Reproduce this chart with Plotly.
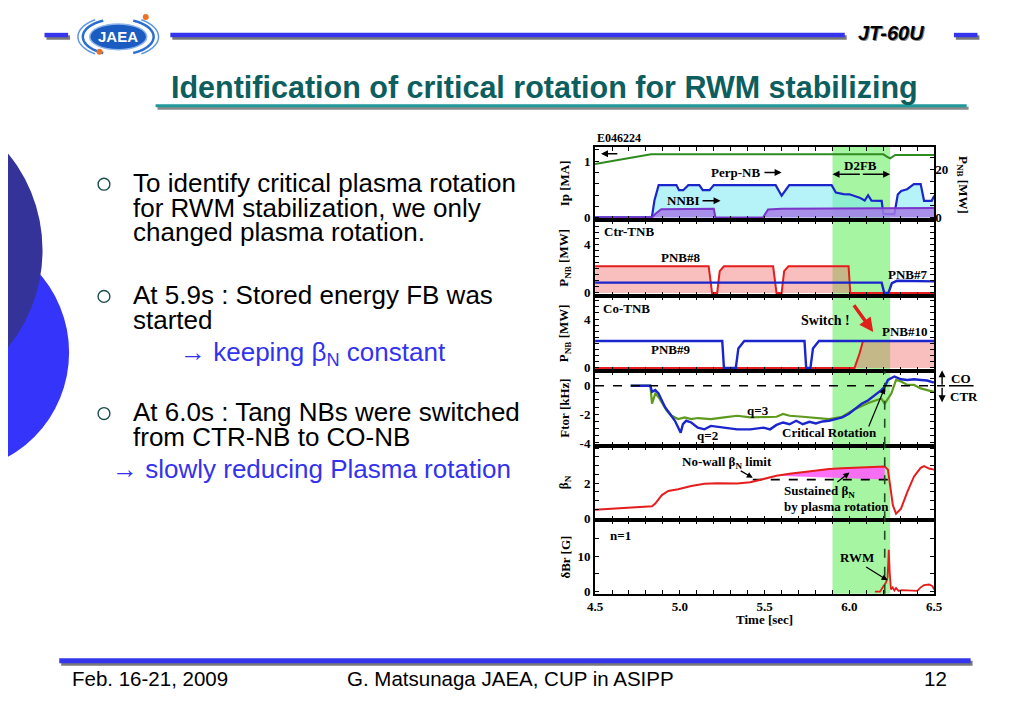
import plotly.graph_objects as go
import math

# ---------------- data ----------------
time_tick_vals = [4.5, 4.6, 4.7, 4.8, 4.9, 5.0, 5.1, 5.2, 5.3, 5.4, 5.5,
                  5.6, 5.7, 5.8, 5.9, 6.0, 6.1, 6.2, 6.3, 6.4, 6.5]
time_tick_text = ["4.5", "", "", "", "", "5.0", "", "", "", "", "5.5",
                  "", "", "", "", "6.0", "", "", "", "", "6.5"]

d2fb_window = [5.9, 6.24]
critical_time = 6.208

# panel 1 : Ip [MA] and NB powers [MW]
ip_t = [4.50, 4.83, 4.90, 6.20, 6.225, 6.24, 6.27, 6.50]
ip_ma = [0.95, 1.12, 1.12, 1.12, 1.07, 1.05, 1.11, 1.11]

perp_t = [4.50, 4.835, 4.85, 4.875, 4.98, 4.995, 5.02, 5.05, 5.115, 5.135, 5.175, 5.20,
          5.565, 5.585, 5.60, 5.645, 5.895, 5.92, 5.965, 6.00, 6.03, 6.06,
          6.09, 6.11, 6.13, 6.19, 6.20, 6.265, 6.285, 6.305, 6.34, 6.38,
          6.42, 6.44, 6.485, 6.50]
perp_mw = [0, 0, 7, 13.4, 13.4, 11.3, 11.3, 13.4, 13.4, 11.3, 11.3, 13.4,
           13.4, 10.5, 9.0, 13.4, 13.4, 10.3, 9.7, 9.6, 9.0, 8.2,
           7.0, 9.2, 7.0, 6.9, 1.4, 1.4, 9.5, 11.0, 11.7, 13.8,
           13.8, 6.9, 6.9, 9.0]

nnbi_t = [4.50, 4.835, 4.855, 4.89, 5.20, 5.21, 5.49, 5.52, 5.60, 6.50]
nnbi_mw = [0, 0, 1.4, 3.4, 3.6, 0, 0, 3.3, 3.6, 3.9]

# panel 2 : Ctr-TNB
pnb8_t = [4.50, 5.17, 5.19, 5.22, 5.235, 5.26, 5.55, 5.57, 5.60, 5.615, 5.64, 5.995, 6.005, 6.50]
pnb8_mw = [2.2, 2.2, 0, 0, 1.8, 2.2, 2.2, 0, 0, 1.8, 2.2, 2.2, 0, 0]
pnb7_t = [4.50, 6.19, 6.205, 6.23, 6.25, 6.28, 6.50]
pnb7_mw = [0.85, 0.85, 0.0, 0.0, 0.8, 1.0, 0.95]

# panel 3 : Co-TNB
pnb9_t = [4.50, 5.25, 5.26, 5.33, 5.345, 5.38, 5.735, 5.745, 5.77, 5.785, 5.82, 6.50]
pnb9_mw = [2.2, 2.2, 0, 0, 1.6, 2.2, 2.2, 0, 0, 1.6, 2.2, 2.2]
pnb10_t = [4.50, 6.03, 6.045, 6.06, 6.08, 6.50]
pnb10_mw = [0, 0, 0.6, 1.2, 2.2, 2.2]

# panel 4 : toroidal rotation [kHz]
q2_t = [4.71, 4.826, 4.836, 4.855, 4.874, 4.913, 4.942, 4.971, 5.005, 5.018,
        5.038, 5.067, 5.106, 5.145, 5.183, 5.222, 5.261, 5.30, 5.338, 5.415,
        5.493, 5.532, 5.57, 5.609, 5.647, 5.686, 5.725, 5.764, 5.802, 5.841,
        5.88, 5.918, 5.957, 5.995, 6.034, 6.072, 6.111, 6.15, 6.188, 6.208,
        6.227, 6.265, 6.304, 6.342, 6.381, 6.42, 6.458, 6.498]
q2_khz = [0, 0, -0.43, -0.31, -0.55, -1.5, -1.98, -2.45, -3.29, -2.69,
          -2.45, -2.57, -2.93, -3.05, -2.81, -2.88, -2.93, -3.0, -3.05, -3.05,
          -2.93, -3.05, -2.74, -2.57, -2.69, -2.45, -2.69, -2.52, -2.64, -2.5,
          -2.45, -2.33, -2.21, -1.98, -1.62, -1.26, -1.02, -0.67, -0.31, -0.07,
          0.40, 0.64, 0.45, 0.40, 0.45, 0.40, 0.36, 0.21]
q3_t = [4.71, 4.826, 4.836, 4.855, 4.874, 4.922, 4.951, 4.99, 5.029, 5.067,
        5.106, 5.183, 5.261, 5.338, 5.415, 5.493, 5.57, 5.609, 5.647, 5.725,
        5.802, 5.88, 5.957, 6.034, 6.111, 6.188, 6.208, 6.247, 6.275, 6.304,
        6.342, 6.381, 6.42, 6.458, 6.498]
q3_khz = [0, 0, -1.26, -0.55, -0.79, -1.74, -2.1, -2.33, -2.21, -2.33,
          -2.26, -2.33, -2.21, -2.1, -2.21, -2.21, -2.17, -1.98, -2.1, -2.17,
          -2.26, -2.33, -2.17, -1.62, -1.21, -0.9, -1.26, -0.55, 0.40, 0.29,
          0.05, 0.05, -0.19, -0.31, -0.43]

# panel 5 : beta_N
bn_t = [4.50, 4.643, 4.836, 4.855, 4.894, 4.932, 4.99, 5.067, 5.145, 5.222,
        5.338, 5.415, 5.493, 5.57, 5.647, 5.725, 5.802, 5.88, 5.957, 6.034,
        6.111, 6.188, 6.208, 6.227, 6.237, 6.256, 6.275, 6.304, 6.342, 6.381,
        6.42, 6.44, 6.469, 6.50]
bn = [0.48, 0.58, 0.68, 0.83, 1.32, 1.55, 1.65, 1.84, 1.96, 2.0,
      1.98, 2.05, 2.23, 2.42, 2.54, 2.64, 2.73, 2.81, 2.85, 2.87,
      2.91, 2.95, 2.95, 2.77, 2.09, 0.74, 0.25, 0.54, 1.51, 2.38,
      2.87, 2.97, 2.83, 2.77]
nowall_t = [5.43, 6.26]
nowall_bn = [2.2, 2.2]

# panel 6 : dBr [G]
dbr_t = [6.15, 6.18, 6.20, 6.215, 6.225, 6.232, 6.238, 6.245, 6.255, 6.265, 6.275,
         6.29, 6.31, 6.40, 6.42, 6.44, 6.47, 6.49, 6.50]
dbr_g = [0, 0, 1.5, 2.5, 4.0, 11.8, 5.0, 0.6, 1.2, 0.3, 1.0,
         0.2, 0.4, 0.2, 1.2, 1.8, 2.0, 1.5, 0.6]

# ---------------- helpers ----------------
# The page body keeps its default 8px margin, so the figure is sized to fit the
# 1023x708 window exactly and page-pixel positions are converted to paper units.
PAGE_W, PAGE_H, OFF = 1023, 708, 8
W, H = PAGE_W - 2 * OFF, PAGE_H - 2 * OFF
SERIF = "Liberation Serif"
SANS = "Liberation Sans"


def X(px):
    return (px - OFF) / W


def Y(py):
    return 1 - (py - OFF) / H


BLUE = "#1a26cc"
RED = "#e41e1e"
BAND = "#a6f5a2"
PANEL_PX = [148, 222, 298, 374, 449, 524, 598]
PLOT_X = [597, 942]
TF = dict(family=SERIF, size=13, color="black", weight="bold")


def names(i):
    return ("x" if i == 1 else f"x{i}"), ("y" if i == 1 else f"y{i}")


fig = go.Figure()


def line(i, x, y, color, width=2.0, yaxis=None, **kw):
    xa, ya = names(i)
    fig.add_trace(go.Scatter(x=x, y=y, xaxis=xa, yaxis=yaxis or ya, mode="lines",
                             line=dict(color=color, width=width), hoverinfo="skip", **kw))


# panel 1
line(1, perp_t, perp_mw, BLUE, 2.2, yaxis="y7", fill="tozeroy", fillcolor="rgba(120,234,242,0.55)")
line(1, nnbi_t, nnbi_mw, "#7a36c8", 2.0, yaxis="y7", fill="tozeroy", fillcolor="rgba(165,125,232,0.85)")
line(1, ip_t, ip_ma, "#2f8a1f", 2.0)
# panel 2
line(2, pnb8_t, pnb8_mw, RED, 2.0, fill="tozeroy", fillcolor="rgba(240,100,100,0.42)")
line(2, pnb7_t, pnb7_mw, BLUE, 2.4)
# panel 3
line(3, pnb10_t, pnb10_mw, RED, 2.0, fill="tozeroy", fillcolor="rgba(240,100,100,0.42)")
line(3, pnb9_t, pnb9_mw, BLUE, 2.4)
# panel 4
line(4, q3_t, q3_khz, "#5e9a1c", 2.2)
line(4, q2_t, q2_khz, BLUE, 2.4)


# panel 5: magenta area between beta_N and the no-wall limit
def crossing(t0, b0, t1, b1, lev):
    return t0 + (lev - b0) * (t1 - t0) / (b1 - b0)


lev = nowall_bn[0]
poly_t, poly_b = [], []
for k in range(len(bn_t) - 1):
    t0, t1, b0, b1 = bn_t[k], bn_t[k + 1], bn[k], bn[k + 1]
    if t0 < nowall_t[0] - 0.001:
        continue
    if b0 < lev <= b1:
        poly_t.append(crossing(t0, b0, t1, b1, lev)); poly_b.append(lev)
    if b1 >= lev and t1 <= critical_time + 0.001:
        poly_t.append(t1); poly_b.append(b1)
    if t1 > critical_time:
        break
poly_t = poly_t + [poly_t[-1]]
poly_b = poly_b + [lev]
fig.add_trace(go.Scatter(x=poly_t, y=poly_b, xaxis="x5", yaxis="y5", mode="lines",
                         line=dict(width=0), fill="toself", fillcolor="rgba(255,95,250,0.9)",
                         hoverinfo="skip"))
line(5, nowall_t, nowall_bn, "black", 1.8)
fig.data[-1].line.dash = "dash"
line(5, bn_t, bn, RED, 2.0)
# panel 6
line(6, dbr_t, dbr_g, RED, 1.8)

# ---------------- axes ----------------
layout = dict(width=W, height=H, margin=dict(l=0, r=0, t=0, b=0),
              paper_bgcolor="white", plot_bgcolor="white", showlegend=False)

ycfg = {
    1: ([-0.05, 1.25], [0, 0.2, 0.4, 0.6, 0.8, 1.0, 1.2], ["0", "", "", "", "", "1", ""]),
    2: ([-0.25, 6.0], [0, 0.5, 1, 1.5, 2, 2.5, 3, 3.5, 4, 4.5, 5, 5.5],
        ["0", "", "", "", "", "", "", "", "4", "", "", ""]),
    3: ([-0.28, 5.9], [0, 0.5, 1, 1.5, 2, 2.5, 3, 3.5, 4, 4.5, 5, 5.5],
        ["0", "", "", "", "", "", "", "", "4", "", "", ""]),
    4: ([-4.2, 1.0], [-4, -3.5, -3, -2.5, -2, -1.5, -1, -0.5, 0, 0.5],
        ["-4", "", "", "", "-2", "", "", "", "0", ""]),
    5: ([-0.12, 4.13], [0, 0.5, 1, 1.5, 2, 2.5, 3, 3.5, 4], ["0", "", "", "", "2", "", "", "", ""]),
    6: ([-0.6, 20.1], [0, 5, 10, 15, 20], ["0", "", "10", "", ""]),
}
for i in range(1, 7):
    xa, ya = names(i)
    xd = dict(domain=[X(PLOT_X[0]), X(PLOT_X[1])], range=[4.5, 6.5], anchor=ya,
              tickvals=time_tick_vals, ticktext=time_tick_text, showticklabels=(i == 6),
              ticks="inside", ticklen=4, tickwidth=1.4, tickcolor="black",
              showline=True, linewidth=2, linecolor="black", mirror="ticks",
              showgrid=False, zeroline=False, tickfont=TF, fixedrange=True)
    if i > 1:
        xd["matches"] = "x"
    layout["xaxis" if i == 1 else f"xaxis{i}"] = xd
    rng, tv, tt = ycfg[i]
    yd = dict(domain=[Y(PANEL_PX[i]), Y(PANEL_PX[i - 1])], range=rng, anchor=xa,
              tickvals=tv, ticktext=tt, ticks="inside", ticklen=4, tickwidth=1.4,
              tickcolor="black", showline=True, linewidth=2, linecolor="black",
              mirror=("ticks" if i > 1 else True), showgrid=False, zeroline=False,
              tickfont=TF, fixedrange=True)
    layout["yaxis" if i == 1 else f"yaxis{i}"] = yd
layout["yaxis7"] = dict(overlaying="y", side="right", anchor="x", range=[-1.25, 29.2],
                        tickvals=[0, 5, 10, 15, 20, 25], ticktext=["0", "", "", "", "20", ""],
                        ticks="inside", ticklen=4, tickwidth=1.4, tickcolor="black",
                        showline=False, showgrid=False, zeroline=False, tickfont=TF,
                        fixedrange=True)

# ---------------- shapes ----------------
shapes = []
# decorative circles on the left
shapes.append(dict(type="circle", xref="paper", yref="paper", x0=X(-178), x1=X(62),
                   y0=Y(475), y1=Y(235), fillcolor="#3434fb", line=dict(width=0)))
shapes.append(dict(type="circle", xref="paper", yref="paper", x0=X(-271), x1=X(35),
                   y0=Y(405), y1=Y(99), fillcolor="#333399", line=dict(width=0)))


def bar(x0, x1, y0, y1, color, shadow="#7a7a7a"):
    shapes.append(dict(type="rect", xref="paper", yref="paper", x0=X(x0 + 2), x1=X(x1 + 2),
                       y0=Y(y1 + 2.5), y1=Y(y0 + 2.5), fillcolor=shadow, line=dict(width=0)))
    shapes.append(dict(type="rect", xref="paper", yref="paper", x0=X(x0), x1=X(x1),
                       y0=Y(y1), y1=Y(y0), fillcolor=color, line=dict(width=0)))


bar(37, 61, 33, 37.5, "#3535ee")
bar(165, 851, 33, 37.5, "#3535ee")
bar(962, 986, 33, 37.5, "#3535ee")
bar(150, 975, 105, 108, "#1f9a9a", shadow="#8a8a8a")
bar(52, 979, 663, 668, "#3535ee")


# logo
def arc(cx, cy, rx, ry, a0, a1, n=30):
    pts = []
    for k in range(n + 1):
        ang = math.radians(a0 + (a1 - a0) * k / n)
        pts.append((X(cx + rx * math.cos(ang)), Y(cy - ry * math.sin(ang))))
    return "M " + " L ".join(f"{p[0]:.5f},{p[1]:.5f}" for p in pts)


shapes.append(dict(type="circle", xref="paper", yref="paper", x0=X(83), x1=X(141),
                   y0=Y(50), y1=Y(24), fillcolor="#1a5cc2", line=dict(color="#8fb6ea", width=1.5)))
for (a0, a1) in [(115, 245), (-65, 65)]:
    shapes.append(dict(type="path", xref="paper", yref="paper", path=arc(112, 37, 36, 18, a0, a1),
                       line=dict(color="#2a6fd0", width=2.5)))
    shapes.append(dict(type="path", xref="paper", yref="paper", path=arc(112, 37, 41, 21, a0 + 10, a1 - 10),
                       line=dict(color="#5d95e0", width=1.5)))
for (cx, cy) in [(93, 52), (140, 17)]:
    shapes.append(dict(type="circle", xref="paper", yref="paper", x0=X(cx - 3), x1=X(cx + 3),
                       y0=Y(cy + 3), y1=Y(cy - 3), fillcolor="#f07020", line=dict(width=0)))

# bullets
for cy in [185.5, 298.5, 416.5]:
    shapes.append(dict(type="circle", xref="paper", yref="paper", x0=X(91.5), x1=X(103.5),
                       y0=Y(cy + 6), y1=Y(cy - 6), line=dict(color="#1e4d4d", width=1.4)))

# chart: D2FB band, critical-time dashed lines
for i in range(1, 7):
    xa, ya = names(i)
    shapes.append(dict(type="rect", xref=xa, yref=f"{ya} domain", x0=d2fb_window[0], x1=d2fb_window[1],
                       y0=0, y1=1, fillcolor=BAND, line=dict(width=0), layer="below"))
for i in [4, 5, 6]:
    xa, ya = names(i)
    shapes.append(dict(type="line", xref=xa, yref=f"{ya} domain", x0=critical_time, x1=critical_time,
                       y0=0, y1=1, line=dict(color="#1f4f1f", width=1.6, dash="dash")))
shapes.append(dict(type="line", xref="paper", yref="y4", x0=X(PLOT_X[0]), x1=X(953), y0=0, y1=0,
                   line=dict(color="black", width=1.6, dash="dash")))
shapes.append(dict(type="line", xref="paper", yref="y4", x0=X(957), x1=X(982), y0=0, y1=0,
                   line=dict(color="black", width=1.4)))
layout["shapes"] = shapes

# ---------------- annotations ----------------
ann = []


def t(x, y, text, xref="paper", yref="paper", size=13, family=SERIF, color="black",
      weight="bold", xanchor="center", yanchor="middle", **kw):
    if xref == "paper":
        x = X(x)
    if yref == "paper":
        y = Y(y)
    ann.append(dict(x=x, y=y, xref=xref, yref=yref, text=text, showarrow=False,
                    xanchor=xanchor, yanchor=yanchor,
                    font=dict(family=family, size=size, color=color, weight=weight), **kw))


def a(x, y, ax, ay, xref, yref, color="black", width=1.4, head=2, size=1.0):
    ann.append(dict(x=x, y=y, ax=ax, ay=ay, xref=xref, yref=yref, axref=xref, ayref=yref,
                    text="", showarrow=True, arrowhead=head, arrowsize=size, arrowwidth=width,
                    arrowcolor=color, standoff=0, startstandoff=0))


def a_px(px, py, dx, dy, color="black", width=1.4):
    ann.append(dict(x=X(px), y=Y(py), xref="paper", yref="paper", ax=dx, ay=dy,
                    axref="pixel", ayref="pixel", text="", showarrow=True, arrowhead=2,
                    arrowsize=1.0, arrowwidth=width, arrowcolor=color, standoff=0))


# slide texts
t(112, 37, "JAEA", family=SANS, size=15, color="white")
t(899.5, 34.5, "<i>JT-60U</i>", family=SANS, size=20, color="#8a8a8a")
t(898, 33, "<i>JT-60U</i>", family=SANS, size=20)
t(545.5, 88.5, "Identification of critical rotation for RWM stabilizing",
  family="Liberation Sans Narrow, Arial Narrow, Liberation Sans", size=30.5, color="#0d5e5e")

body = dict(family=SANS, size=26, weight="normal", xanchor="left")
for (yy, s) in [(184, "To identify critical plasma rotation"),
                (209, "for RWM stabilization, we only"),
                (234, "changed plasma rotation."),
                (297, "At 5.9s : Stored energy FB was"),
                (322, "started"),
                (415, "At 6.0s : Tang NBs were switched"),
                (440, "from CTR-NB to CO-NB")]:
    t(125, yy, s, **body)
t(173, 356, "→ keeping β<sub>N</sub> constant", color="#3333ee", **body)
t(104, 472, "→ slowly reducing Plasma rotation", color="#3333ee", **body)

foot = dict(family=SANS, size=20.5, weight="normal")
t(62.5, 683, "Feb. 16-21, 2009", xanchor="left", **foot)
t(343, 683, "G. Matsunaga JAEA, CUP in ASIPP", xanchor="left", **foot)
t(957, 683, "12", xanchor="right", **foot)

# chart labels
t(597, 139, "E046224", xanchor="left", size=12)
t(566, 185, "Ip [MA]", textangle=-90)
t(971, 186, "P<sub>NB</sub> [MW]", textangle=90)
t(566, 260, "P<sub>NB</sub> [MW]", textangle=-90)
t(566, 336, "P<sub>NB</sub> [MW]", textangle=-90)
t(566, 411, "Ftor [kHz]", textangle=-90)
t(566, 486, "β<sub>N</sub>", textangle=-90)
t(566, 561, "δBr [G]", textangle=-90)
t(769.5, 624, "Time [sec]")
t(969, 381, "CO")
t(972, 399, "CTR")
a_px(950, 373, 0, 16)
a_px(950, 405, 0, -16)

# panel 1
a(4.535, 1.13, 4.64, 1.13, "x", "y")
t(5.33, 18.6, "Perp-NB", "x", "y7")
a(5.60, 18.6, 5.49, 18.6, "x", "y7")
t(5.02, 6.9, "NNBI", "x", "y7")
a(5.24, 6.9, 5.125, 6.9, "x", "y7")
t(6.065, 21.6, "D2FB", "x", "y7")
a(d2fb_window[0], 17.9, 6.07, 17.9, "x", "y7")
a(d2fb_window[1], 17.9, 6.07, 17.9, "x", "y7")
# panel 2
t(4.54, 5.1, "Ctr-TNB", "x2", "y2", xanchor="left")
t(5.005, 2.95, "PNB#8", "x2", "y2")
t(6.345, 1.55, "PNB#7", "x2", "y2")
# panel 3
t(4.537, 4.9, "Co-TNB", "x3", "y3", xanchor="left")
t(4.95, 1.5, "PNB#9", "x3", "y3")
t(6.325, 3.0, "PNB#10", "x3", "y3")
t(5.86, 3.85, "Switch !", "x3", "y3", size=14)
a(6.14, 2.95, 6.02, 5.25, "x3", "y3", color="#e0201a", width=3.5, head=2, size=0.8)
# panel 4
t(5.46, -1.7, "q=3", "x4", "y4")
t(5.165, -3.5, "q=2", "x4", "y4")
t(5.88, -3.3, "Critical Rotation", "x4", "y4")
a(critical_time, -0.15, 6.11, -2.95, "x4", "y4", width=1.2)
# panel 5
t(5.28, 3.15, "No-wall β<sub>N</sub> limit", "x5", "y5")
a(5.43, 2.3, 5.35, 2.75, "x5", "y5", width=1.2)
t(5.60, 1.5, "Sustained β<sub>N</sub>", "x5", "y5", xanchor="left")
t(5.60, 0.68, "by plasma rotation", "x5", "y5", xanchor="left")
a(6.0, 2.6, 5.92, 2.0, "x5", "y5", width=1.2)
# panel 6
t(4.575, 15.8, "n=1", "x6", "y6", xanchor="left")
t(6.044, 9.6, "RWM", "x6", "y6")
a(6.225, 3.2, 6.09, 7.2, "x6", "y6", width=1.2)

layout["annotations"] = ann
fig.update_layout(**layout)
fig.write_html("out.html")
